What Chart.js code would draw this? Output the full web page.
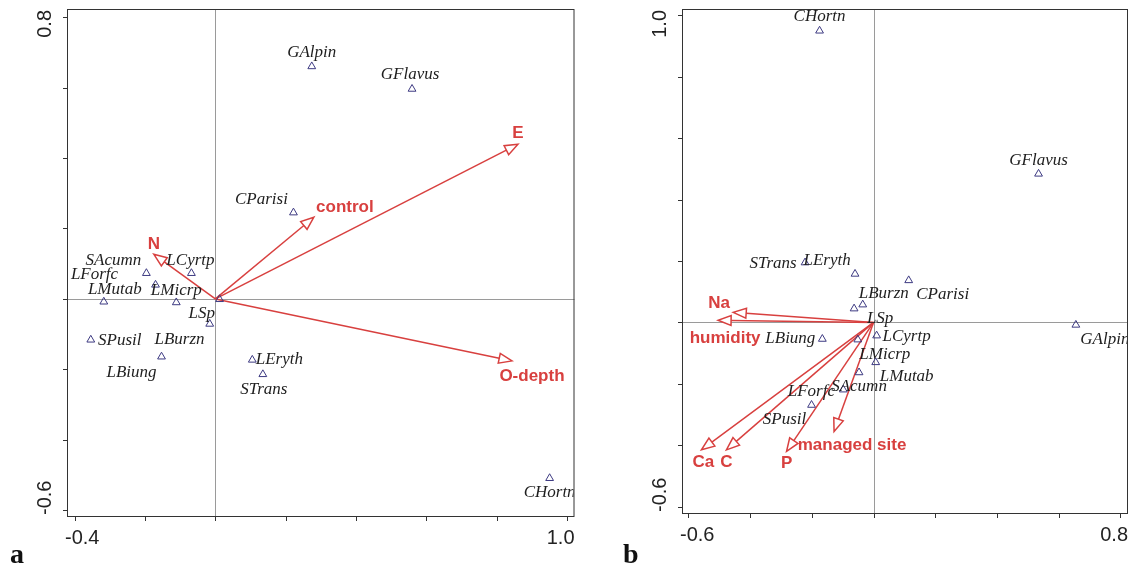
<!DOCTYPE html>
<html>
<head>
<meta charset="utf-8">
<title>CCA biplots</title>
<script src="https://cdn.jsdelivr.net/npm/chart.js@4"></script>
<style>
  body { margin: 0; background: #fff; width: 1134px; height: 566px; position: relative; overflow: hidden; }
  .panel { position: absolute; top: 0; height: 566px; }
  #panel-a { left: 0; width: 580px; }
  #panel-b { left: 580px; width: 554px; }
  .tag { position: absolute; top: 540px; font: bold 28px "Liberation Serif", "Times New Roman", serif; line-height: 28px; color: #111; }
</style>
</head>
<body>
<div class="panel" id="panel-a"><canvas id="chartA" width="580" height="566"></canvas></div>
<div class="panel" id="panel-b"><canvas id="chartB" width="554" height="566"></canvas></div>
<div class="tag" style="left:10px">a</div>
<div class="tag" style="left:623px">b</div>

<script>
// ---- data (species scores, environmental arrows, axis ticks) ----
const species = ['GAlpin', 'GFlavus', 'CParisi', 'SAcumn', 'LCyrtp', 'LForfc', 'LMutab', 'LMicrp',
                 'LBurzn', 'LSp', 'SPusil', 'LBiung', 'LEryth', 'STrans', 'CHortn'];

// panel a
const axis1A = [0.274, 0.559, 0.222, -0.196, -0.068, -0.170, -0.317, -0.111, 0.012, -0.016, -0.354, -0.153, 0.105, 0.135, 0.950];
const axis2A = [0.660, 0.596, 0.245, 0.073, 0.073, 0.040, -0.008, -0.010, -0.001, -0.071, -0.116, -0.164, -0.173, -0.214, -0.509];
const envA = ['E', 'control', 'N', 'O-depth'];
const envA1 = [0.860, 0.280, -0.175, 0.843];
const envA2 = [0.439, 0.232, 0.127, -0.176];
const ticksAx = [-0.4, -0.2, 0, 0.2, 0.4, 0.6, 0.8, 1.0];
const ticksAy = [-0.6, -0.4, -0.2, 0, 0.2, 0.4, 0.6, 0.8];
const tickLabelsAx = ['-0.4', '1.0'];
const tickLabelsAy = ['-0.6', '0.8'];

// panel b
const axis1B = [0.656, 0.535, 0.114, -0.047, 0.010, -0.098, 0.007, -0.051, -0.035, -0.063, -0.201, -0.166, -0.060, -0.222, -0.175];
const axis2B = [-0.008, 0.484, 0.137, -0.163, -0.043, -0.219, -0.130, -0.056, 0.058, 0.045, -0.269, -0.054, 0.158, 0.195, 0.950];
const envB = ['Na', 'humidity', 'Ca', 'C', 'P', 'managed site'];
const envB1 = [-0.455, -0.504, -0.558, -0.477, -0.282, -0.128];
const envB2 = [0.033, 0.007, -0.415, -0.415, -0.420, -0.355];
const ticksBx = [-0.6, -0.4, -0.2, 0, 0.2, 0.4, 0.6, 0.8];
const ticksBy = [-0.6, -0.4, -0.2, 0, 0.2, 0.4, 0.6, 0.8, 1.0];
const tickLabelsBx = ['-0.6', '0.8'];
const tickLabelsBy = ['-0.6', '1.0'];

// ---- layout: label offsets in pixels from their point / arrow tip ----
const labelOffA = {
  GAlpin: [0, -14], GFlavus: [-2, -14], CParisi: [-32, -13], SAcumn: [-33, -13], LCyrtp: [-1, -13],
  LForfc: [-61, -10], LMutab: [11, -12], LMicrp: [0, -12], LBurzn: [-40, 40], LSp: [-8, -10],
  SPusil: [29, 1], LBiung: [-30, 16], LEryth: [27, 0], STrans: [1, 15], CHortn: [0, 14]
};
const envOffA = { 'E': [0, -11], 'control': [31, -10], 'N': [0, -10], 'O-depth': [20, 15] };

const labelOffB = {
  GAlpin: [29, 15], GFlavus: [0, -13], CParisi: [34, 14], SAcumn: [0, 14], LCyrtp: [30, 1],
  LForfc: [-32, 2], LMutab: [31, 14], LMicrp: [27, 15], LBurzn: [21, -11], LSp: [26, 10],
  SPusil: [-27, 15], LBiung: [-32, 0], LEryth: [-28, -13], STrans: [-32, 1], CHortn: [0, -14]
};
const envOffB = { 'Na': [-14, -9], 'humidity': [7, 18], 'Ca': [2, 12], 'C': [0, 12], 'P': [0, 12], 'managed site': [18, 14] };

const RED = '#d8403f';
const POINT = '#3d3a82';
const SANS = '"Liberation Sans", Arial, sans-serif';
const SERIF = '"Liberation Serif", "Times New Roman", serif';

function biplotPlugin(cfg) {
  return {
    id: 'biplot',
    beforeDatasetsDraw(chart) {
      const { ctx, chartArea: a, scales: { x, y } } = chart;
      ctx.save();

      // axis zero lines
      const zx = Math.round(x.getPixelForValue(0)) + 0.5;
      const zy = Math.round(y.getPixelForValue(0)) + 0.5;
      ctx.strokeStyle = '#9a9a9a';
      ctx.lineWidth = 1;
      ctx.beginPath();
      ctx.moveTo(zx, a.top); ctx.lineTo(zx, a.bottom);
      ctx.moveTo(a.left, zy); ctx.lineTo(a.right, zy);
      ctx.stroke();

      // frame + ticks
      ctx.strokeStyle = '#333';
      ctx.strokeRect(a.left + 0.5, a.top + 0.5, a.width - 1, a.height - 1);
      ctx.beginPath();
      cfg.xTicks.forEach(v => {
        const px = Math.round(x.getPixelForValue(v)) + 0.5;
        ctx.moveTo(px, a.bottom); ctx.lineTo(px, a.bottom + 4);
      });
      cfg.yTicks.forEach(v => {
        const py = Math.round(y.getPixelForValue(v)) + 0.5;
        ctx.moveTo(a.left, py); ctx.lineTo(a.left - 4, py);
      });
      ctx.stroke();

      // end tick labels
      ctx.fillStyle = '#222';
      ctx.font = '20px ' + SANS;
      ctx.textBaseline = 'middle';
      ctx.textAlign = 'left';
      ctx.fillText(cfg.xLabels[0], a.left - 2, a.bottom + 21);
      ctx.textAlign = 'right';
      ctx.fillText(cfg.xLabels[1], a.right, a.bottom + 21);
      ctx.save();
      ctx.translate(a.left - 22, a.bottom - 2);
      ctx.rotate(-Math.PI / 2);
      ctx.textAlign = 'left';
      ctx.fillText(cfg.yLabels[0], 0, 0);
      ctx.restore();
      ctx.save();
      ctx.translate(a.left - 22, a.top + 1);
      ctx.rotate(-Math.PI / 2);
      ctx.textAlign = 'right';
      ctx.fillText(cfg.yLabels[1], 0, 0);
      ctx.restore();

      // environmental arrows
      const ox = x.getPixelForValue(0), oy = y.getPixelForValue(0);
      ctx.strokeStyle = RED;
      ctx.lineWidth = 1.5;
      cfg.env.forEach((name, i) => {
        const tx = x.getPixelForValue(cfg.env1[i]);
        const ty = y.getPixelForValue(cfg.env2[i]);
        const ang = Math.atan2(ty - oy, tx - ox);
        const c = Math.cos(ang), s = Math.sin(ang);
        const bx = tx - 13 * c, by = ty - 13 * s;
        ctx.beginPath();
        ctx.moveTo(ox, oy); ctx.lineTo(bx, by);
        ctx.stroke();
        ctx.beginPath();
        ctx.moveTo(tx, ty);
        ctx.lineTo(bx + 5 * s, by - 5 * c);
        ctx.lineTo(bx - 5 * s, by + 5 * c);
        ctx.closePath();
        ctx.fillStyle = '#fff';
        ctx.fill();
        ctx.stroke();
      });
      ctx.restore();
    },
    afterDatasetsDraw(chart) {
      const { ctx, chartArea: a, scales: { x, y } } = chart;
      ctx.save();
      ctx.textAlign = 'center';
      ctx.textBaseline = 'middle';

      // species names, clipped to the frame
      ctx.save();
      ctx.beginPath();
      ctx.rect(a.left, a.top, a.width - 1, a.height);
      ctx.clip();
      ctx.font = 'italic 17px ' + SERIF;
      ctx.fillStyle = '#1e1e1e';
      species.forEach((name, i) => {
        const off = cfg.labelOff[name];
        ctx.fillText(name, x.getPixelForValue(cfg.ax1[i]) + off[0], y.getPixelForValue(cfg.ax2[i]) + off[1]);
      });
      ctx.restore();

      // arrow names
      ctx.font = 'bold 17px ' + SANS;
      ctx.fillStyle = RED;
      cfg.env.forEach((name, i) => {
        const off = cfg.envOff[name];
        ctx.fillText(name, x.getPixelForValue(cfg.env1[i]) + off[0], y.getPixelForValue(cfg.env2[i]) + off[1]);
      });
      ctx.restore();
    }
  };
}

function makeBiplot(canvasId, cfg, range, padding) {
  return new Chart(document.getElementById(canvasId), {
    type: 'scatter',
    data: {
      datasets: [{
        data: cfg.ax1.map((v, i) => ({ x: v, y: cfg.ax2[i] })),
        pointStyle: 'triangle',
        pointRadius: 4.5,
        pointBorderWidth: 1,
        pointBorderColor: POINT,
        pointBackgroundColor: 'rgba(0,0,0,0)'
      }]
    },
    options: {
      responsive: false,
      animation: false,
      events: [],
      layout: { padding: padding },
      plugins: { legend: { display: false }, tooltip: { enabled: false } },
      scales: {
        x: { type: 'linear', min: range[0], max: range[1], display: false },
        y: { type: 'linear', min: range[2], max: range[3], display: false }
      }
    },
    plugins: [biplotPlugin(cfg)]
  });
}

makeBiplot('chartA', {
  ax1: axis1A, ax2: axis2A, env: envA, env1: envA1, env2: envA2,
  xTicks: ticksAx, yTicks: ticksAy, xLabels: tickLabelsAx, yLabels: tickLabelsAy,
  labelOff: labelOffA, envOff: envOffA
}, [-0.4216, 1.0207, -0.619, 0.823], { left: 67, right: 5, top: 9, bottom: 49 });

makeBiplot('chartB', {
  ax1: axis1B, ax2: axis2B, env: envB, env1: envB1, env2: envB2,
  xTicks: ticksBx, yTicks: ticksBy, xLabels: tickLabelsBx, yLabels: tickLabelsBy,
  labelOff: labelOffB, envOff: envOffB
}, [-0.621, 0.825, -0.624, 1.021], { left: 102, right: 6, top: 9, bottom: 52 });
</script>
</body>
</html>
